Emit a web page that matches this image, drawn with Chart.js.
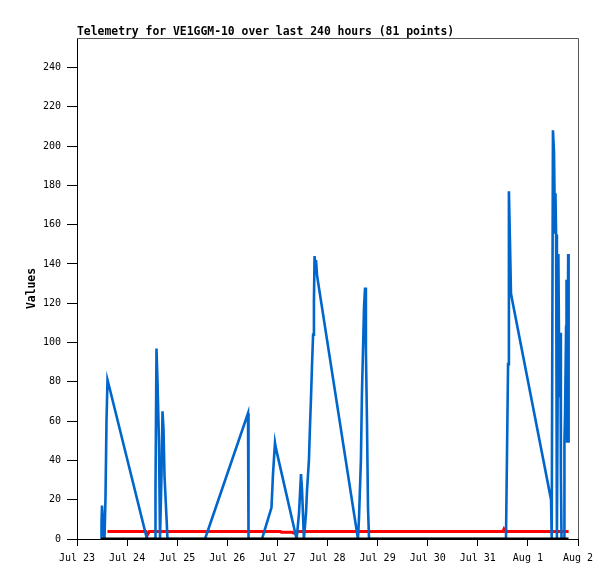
<!DOCTYPE html>
<html>
<head>
<meta charset="utf-8">
<script src="https://cdn.jsdelivr.net/npm/chart.js@4.4.1/dist/chart.umd.min.js"></script>
<style>
  html, body { margin: 0; padding: 0; background: #fff; }
  #wrap { width: 615px; height: 579px; }
</style>
</head>
<body>
<div id="wrap"><canvas id="chart" width="615" height="579"></canvas></div>
<script>
// x values are hours since Jul 23 00:00
const dayLabels = ["Jul 23", "Jul 24", "Jul 25", "Jul 26", "Jul 27", "Jul 28", "Jul 29", "Jul 30", "Jul 31", "Aug 1", "Aug 2"];
const yTicks = [0, 20, 40, 60, 80, 100, 120, 140, 160, 180, 200, 220, 240];

const blueHours = [11.5, 11.74, 11.98, 12.46, 13.17, 13.65, 14.13, 14.61, 15.33, 33.53,
  37.37, 37.6, 38.08, 38.56, 39.28, 39.76, 40.48, 40.96, 41.44, 41.92, 42.87, 43.35,
  61.32, 81.92, 82.16, 88.62, 93.17, 93.89, 94.85, 95.33, 105.2, 106.35, 107.3, 107.8,
  108.7, 109.7, 110.2, 111.1, 111.6, 112.1, 112.6, 113.1, 113.5, 113.8, 114.3, 114.5, 115.0,
  134.6, 135.1, 136.0, 136.5, 137.0, 137.5, 138.0, 138.4, 138.9, 139.4, 139.9,
  205.5, 206.5, 206.9, 207.4, 207.9, 208.4, 227.1, 227.3, 227.5, 228.0, 228.5, 229.0,
  229.2, 229.5, 229.9, 230.6, 231.1, 231.6, 231.8, 232.1, 233.3, 233.5, 233.8, 234.3,
  234.5, 234.8, 235.3, 235.5];
const blueValues = [0, 8, 17, 8, 0, 21, 60, 81, 78, 0,
  0, 25, 97, 80, 49, 0, 33, 65, 56, 32, 11, 0,
  0, 64, 0, 0, 16, 33, 49, 46, 0, 13, 33, 25,
  0, 13, 25, 40, 57, 72, 89, 104, 121, 144, 137, 142, 134,
  0, 11, 40, 74, 96, 118, 128, 96, 61, 16, 0,
  0, 89, 177, 152, 125, 122, 20, 10, 0, 208, 197, 156,
  176, 155, 0, 145, 72, 105, 33, 0, 0, 49, 64, 108,
  132, 49, 145, 49];

const redHours = [14.6, 33.0, 33.5, 34.6, 97.4, 97.9, 103.2, 103.7, 105.2, 105.8, 204.0, 204.5, 205.1, 235.5];
const redValues = [3.8, 3.8, 1.6, 3.8, 3.8, 3.4, 3.4, 3.0, 3.0, 3.8, 3.8, 5.0, 3.8, 3.8];

const blackHours = [11.5, 235.5];
const blackValues = [0, 0];

const toPoints = (xs, ys) => xs.map((x, i) => ({ x: x, y: ys[i] }));

const frame = {
  id: "frame",
  afterDraw(chart) {
    const { ctx, chartArea: a } = chart;
    ctx.save();
    ctx.strokeStyle = "#555";
    ctx.lineWidth = 1;
    ctx.beginPath();
    ctx.moveTo(a.left, a.top + 0.5);
    ctx.lineTo(a.right + 0.5, a.top + 0.5);
    ctx.lineTo(a.right + 0.5, a.bottom);
    ctx.stroke();
    ctx.fillStyle = "#000";
    ctx.font = "bold 11.4px 'DejaVu Sans Mono'";
    ctx.textBaseline = "alphabetic";
    ctx.textAlign = "left";
    ctx.fillText("Telemetry for VE1GGM-10 over last 240 hours (81 points)", a.left, 35);
    ctx.translate(32, (a.top + a.bottom) / 2);
    ctx.rotate(-Math.PI / 2);
    ctx.textAlign = "center";
    ctx.textBaseline = "middle";
    ctx.fillText("Values", 0, 0);
    ctx.restore();
  }
};

new Chart(document.getElementById("chart"), {
  type: "line",
  data: {
    datasets: [
      { data: toPoints(blackHours, blackValues), borderColor: "#000", borderWidth: 3 },
      { data: toPoints(blueHours, blueValues), borderColor: "#0066cc", borderWidth: 2.6 },
      { data: toPoints(redHours, redValues), borderColor: "#ff0000", borderWidth: 3 }
    ]
  },
  options: {
    responsive: false,
    animation: false,
    devicePixelRatio: 1,
    layout: { padding: { top: 38, right: 37, left: 0, bottom: 0 } },
    elements: { point: { radius: 0 }, line: { tension: 0 } },
    plugins: { legend: { display: false }, tooltip: { enabled: false } },
    scales: {
      x: {
        type: "linear",
        min: 0,
        max: 240,
        afterBuildTicks: (s) => { s.ticks = dayLabels.map((_, i) => ({ value: i * 24 })); },
        afterFit: (s) => { s.height = 40; },
        ticks: {
          autoSkip: false,
          maxRotation: 0,
          padding: 6,
          color: "#000",
          font: { family: "'DejaVu Sans Mono'", size: 10 },
          callback: (v) => dayLabels[Math.round(v / 24)]
        },
        grid: { drawOnChartArea: false, tickLength: 7, color: "#000" },
        border: { color: "#000", width: 1 }
      },
      y: {
        min: 0,
        max: 255,
        afterBuildTicks: (s) => { s.ticks = yTicks.map((v) => ({ value: v })); },
        afterFit: (s) => { s.width = 77; },
        ticks: {
          padding: 6,
          color: "#000",
          font: { family: "'DejaVu Sans Mono'", size: 10 }
        },
        grid: { drawOnChartArea: false, tickLength: 10, color: "#000" },
        border: { color: "#000", width: 1 }
      }
    }
  },
  plugins: [frame]
});
</script>
</body>
</html>
